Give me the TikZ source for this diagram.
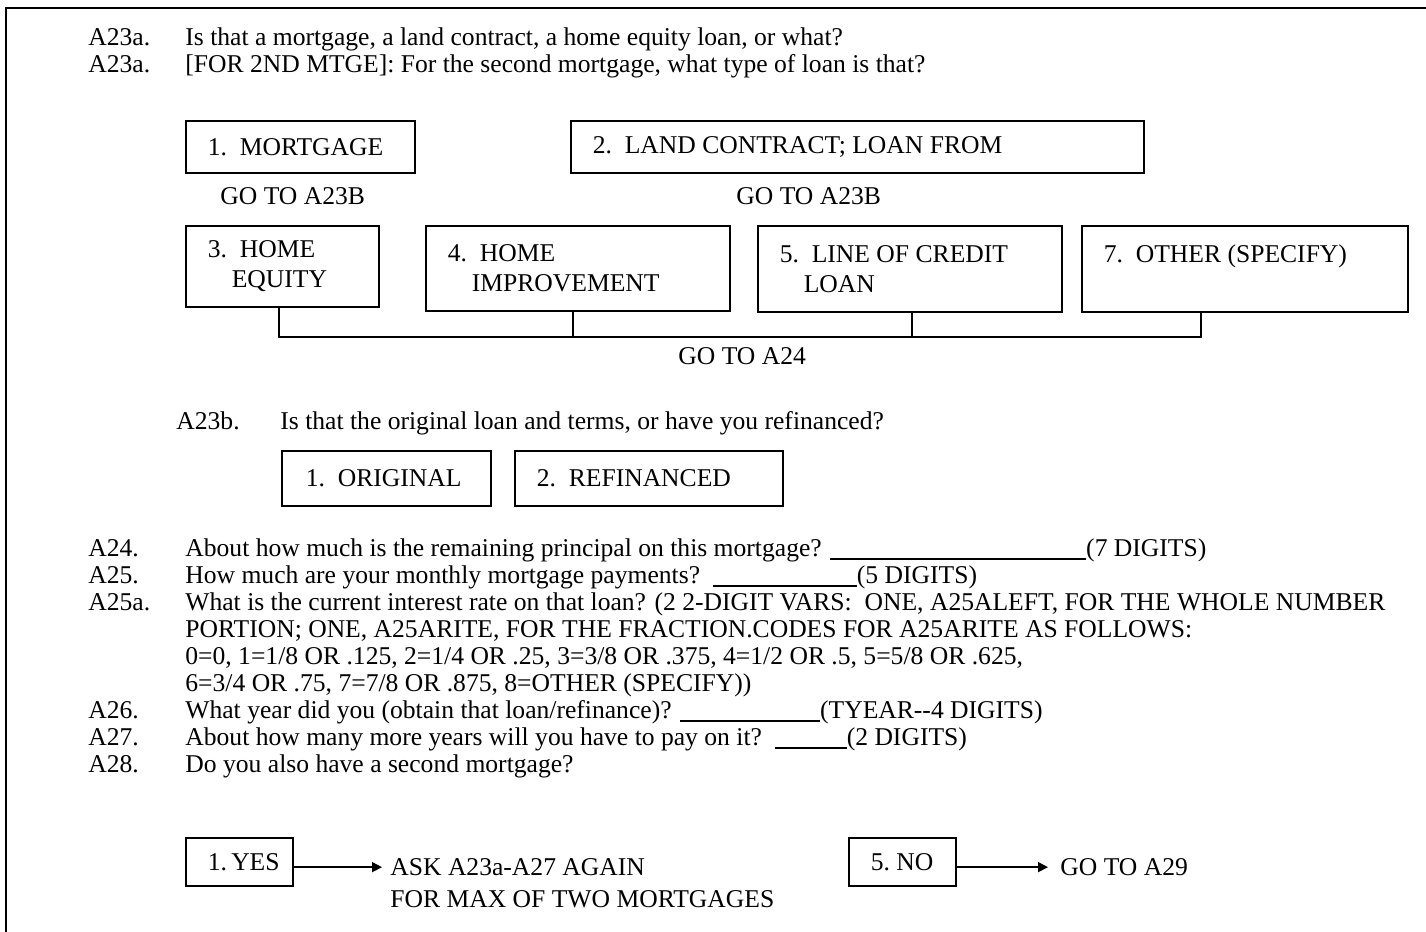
\documentclass[tikz,border=0pt]{standalone}
\usepackage{fontspec}
\setmainfont{Liberation Serif}
\usetikzlibrary{arrows.meta}

\newcommand{\qfont}{\fontsize{12.8}{13.5}\selectfont}
\newcommand{\boxfont}{\fontsize{12.8}{15}\selectfont}
\newcommand{\blank}[1]{\rule[-1.5pt]{#1}{0.7pt}}

\tikzset{
	qtext/.style={anchor=base west, inner sep=0pt, font=\qfont},
	codebox/.style={draw, line width=0.8pt, anchor=north west, align=flush left, inner xsep=11pt, inner ysep=0pt, font=\boxfont},
	goarrow/.style={-{Triangle[length=5pt,width=5pt]}, line width=0.8pt},
}

\begin{document}
\begin{tikzpicture}[x=0.5pt, y=-0.5pt]
			%%%%% START %%%%%
			\useasboundingbox (0, 0) rectangle (1426, 932);
			
			\draw[line width=1pt] (6, 932) -- (6, 8) -- (1426, 8);
			
			\node[qtext] (a23l) at (88, 45) {A23a.};
			\node[qtext] (a23q) at (185, 45) {Is that a mortgage, a land contract, a home equity loan, or what?};
			\node[qtext] (a23sl) at (88, 72) {A23a.};
			\node[qtext] (a23sq) at (185, 72) {[FOR 2ND MTGE]: For the second mortgage, what type of loan is that?};
			
			\node[codebox, text width=92.5pt, minimum height=26pt] (mtg) at (185, 120) {1.~~MORTGAGE};
			\node[codebox, text width=264.5pt, minimum height=26pt] (land) at (570, 120) {2.~~LAND~CONTRACT;~LOAN~FROM};
			\node[qtext] (goa) at (220, 204.5) {GO TO A23B};
			\node[qtext] (gob) at (736, 204.5) {GO TO A23B};
			
			\node[codebox, text width=74.5pt, minimum height=40.5pt] (heq) at (185, 225) {3.~~HOME\\\hspace*{12pt}EQUITY};
			\node[codebox, text width=130pt, minimum height=42.5pt] (himp) at (425, 225) {4.~~HOME\\\hspace*{12pt}IMPROVEMENT};
			\node[codebox, text width=130pt, minimum height=43pt] (loc) at (757, 225) {5.~~LINE~OF~CREDIT\\\hspace*{12pt}LOAN};
			\node[codebox, text width=141pt, minimum height=43pt] (oth) at (1081, 225) {7.~~OTHER~(SPECIFY)\\~};
			
			\coordinate (bus) at (0, 337);
			\draw[line width=0.8pt] ([xshift=-1.75pt]heq.south) -- ([xshift=-1.75pt]heq.south |- bus) -- ([xshift=-22pt]oth.south |- bus) -- ([xshift=-22pt]oth.south);
			\draw[line width=0.8pt] ([xshift=-2.5pt]himp.south) -- ([xshift=-2.5pt]himp.south |- bus);
			\draw[line width=0.8pt] ([xshift=1pt]loc.south) -- ([xshift=1pt]loc.south |- bus);
			\node[qtext] (goc) at (678, 364.5) {GO TO A24};
			
			\node[qtext] (a23bl) at (176, 429.5) {A23b.};
			\node[qtext] (a23bq) at (280, 429.5) {Is that the original loan and terms, or have you refinanced?};
			\node[codebox, text width=80.5pt, minimum height=27.5pt, inner xsep=12pt] (orig) at (281, 450) {1.~~ORIGINAL};
			\node[codebox, text width=112pt, minimum height=27.5pt] (refin) at (514, 450) {2.~~REFINANCED};
			
			\node[qtext] (a24l) at (88, 556.5) {A24.};
			\node[qtext] (a24q) at (185, 556.5) {About how much is the remaining principal on this mortgage? \blank{128pt}(7 DIGITS)};
			\node[qtext] (a25l) at (88, 583.5) {A25.};
			\node[qtext] (a25q) at (185, 583.5) {How much are your monthly mortgage payments?\ \ \blank{72pt}(5 DIGITS)};
			\node[qtext] (a25al) at (88, 610.5) {A25a.};
			\node[qtext] (a25aq) at (185, 610.5) {What is the current interest rate on that loan? (2 2-DIGIT VARS:\ \ ONE, A25ALEFT, FOR THE WHOLE NUMBER};
			\node[qtext] (a25ab) at (185, 637.5) {PORTION; ONE, A25ARITE, FOR THE FRACTION.CODES FOR A25ARITE AS FOLLOWS:};
			\node[qtext] (a25ac) at (185, 664.5) {0=0, 1=1/8 OR .125, 2=1/4 OR .25, 3=3/8 OR .375, 4=1/2 OR .5, 5=5/8 OR .625,};
			\node[qtext] (a25ad) at (185, 691.5) {6=3/4 OR .75, 7=7/8 OR .875, 8=OTHER (SPECIFY))};
			\node[qtext] (a26l) at (88, 718.5) {A26.};
			\node[qtext] (a26q) at (185, 718.5) {What year did you (obtain that loan/refinance)? \blank{70pt}(TYEAR-{}-4 DIGITS)};
			\node[qtext] (a27l) at (88, 745.5) {A27.};
			\node[qtext] (a27q) at (185, 745.5) {About how many more years will you have to pay on it?\ \ \blank{36pt}(2 DIGITS)};
			\node[qtext] (a28l) at (88, 772.5) {A28.};
			\node[qtext] (a28q) at (185, 772.5) {Do you also have a second mortgage?};
			
			\node[codebox, text width=31.5pt, minimum height=24pt] (yes) at (185, 837) {1.~YES};
			\node[qtext] (ask) at (390, 875.5) {ASK A23a-A27 AGAIN};
			\node[qtext] (askmax) at (390, 907.5) {FOR MAX OF TWO MORTGAGES};
			\draw[goarrow] (yes.east |- ask.west) -- ([xshift=-4pt]ask.west);
			
			\node[codebox, text width=31.5pt, minimum height=24pt] (no) at (848, 837) {5.~NO};
			\node[qtext] (goz) at (1060, 875.5) {GO TO A29};
			\draw[goarrow] (no.east |- goz.west) -- ([xshift=-6pt]goz.west);
			
			%%%%% END %%%%%
\end{tikzpicture}
\end{document}
